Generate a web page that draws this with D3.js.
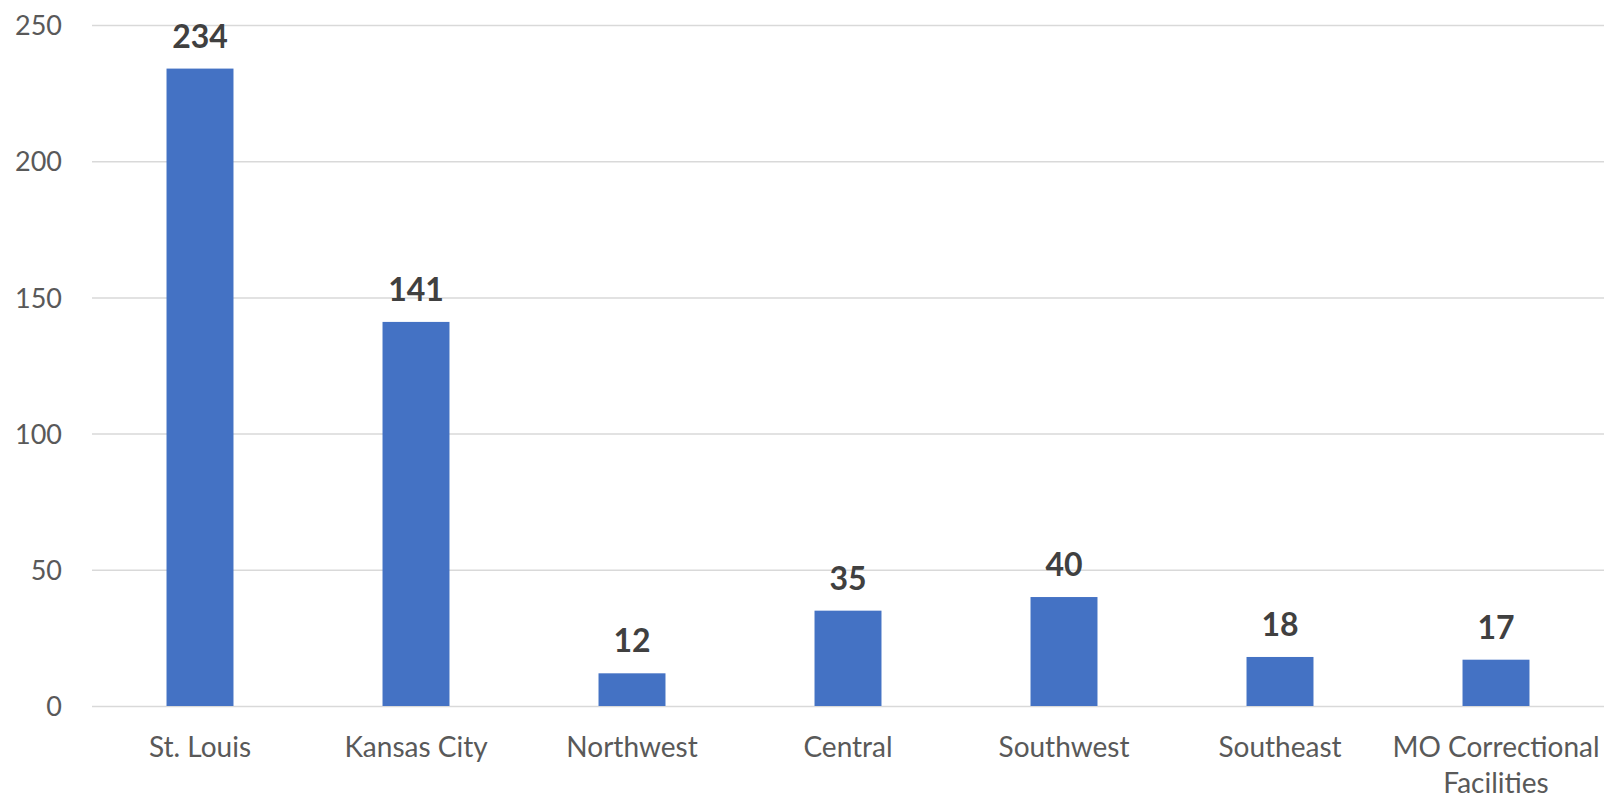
<!DOCTYPE html>
<html>
<head>
<meta charset="utf-8">
<script src="https://cdn.jsdelivr.net/npm/d3@7"></script>
<style>
  html, body { margin: 0; padding: 0; background: #fff; }
  svg { display: block; font-family: Lato, "Open Sans", sans-serif; }
</style>
</head>
<body>
<svg width="1606" height="799"></svg>
<script>
// Data
const regions = ["St. Louis", "Kansas City", "Northwest", "Central", "Southwest", "Southeast", "MO Correctional Facilities"];
const counts = [234, 141, 12, 35, 40, 18, 17];
const yTicks = [0, 50, 100, 150, 200, 250];

// The svg
let svg = d3.select("svg"),
    width = +svg.attr("width"),
    height = +svg.attr("height");

let margin = {top: 25, right: 2, bottom: 93, left: 92};

// Scales
let x = d3.scaleBand()
    .domain(regions)
    .range([margin.left, width - margin.right])
    .paddingInner(0.69)
    .paddingOuter(0.345);
let y = d3.scaleLinear()
    .domain([0, 250])
    .range([height - margin.bottom, margin.top]);

// Gridlines
svg.append("g")
    .selectAll("line")
    .data(yTicks)
    .join("line")
    .attr("x1", margin.left)
    .attr("x2", width - margin.right)
    .attr("y1", d => y(d) + 0.5)
    .attr("y2", d => y(d) + 0.5)
    .attr("stroke", "#d9d9d9")
    .attr("stroke-width", 1.5);

// Y axis labels
let yAxis = svg.append("g")
    .attr("transform", `translate(${margin.left - 30},0)`)
    .call(d3.axisLeft(y).tickValues(yTicks).tickSize(0).tickPadding(0));
yAxis.select(".domain").remove();
yAxis.selectAll("text")
    .attr("fill", "#595959")
    .attr("font-size", 27)
    .attr("font-family", "Lato, sans-serif")
    .attr("dy", "0.36em");

// Bars
svg.append("g")
    .selectAll("rect")
    .data(regions)
    .join("rect")
    .attr("x", d => x(d))
    .attr("width", x.bandwidth())
    .attr("y", (d, i) => y(counts[i]))
    .attr("height", (d, i) => y(0) - y(counts[i]))
    .attr("fill", "#4472c4");

// Data labels
svg.append("g")
    .selectAll("text")
    .data(regions)
    .join("text")
    .attr("x", d => x(d) + x.bandwidth() / 2)
    .attr("y", (d, i) => y(counts[i]) - 21)
    .attr("text-anchor", "middle")
    .attr("font-size", 32)
    .attr("font-weight", "bold")
    .attr("fill", "#404040")
    .text((d, i) => counts[i]);

// X axis labels, wrapped to the band
let xAxis = svg.append("g")
    .attr("transform", `translate(0,${y(0)})`)
    .call(d3.axisBottom(x).tickSize(0).tickPadding(0));
xAxis.select(".domain").remove();
xAxis.selectAll("text")
    .attr("fill", "#595959")
    .attr("font-size", 28)
    .attr("font-family", "Lato, sans-serif")
    .attr("dy", null)
    .attr("y", 51)
    .each(function (d) {
        let t = d3.select(this);
        let words = d.split(" ");
        let limit = x.step() - 2;
        t.text(null);
        let line = [];
        let tspan = t.append("tspan").attr("x", 0).attr("dy", 0);
        words.forEach(w => {
            line.push(w);
            tspan.text(line.join(" "));
            if (tspan.node().getComputedTextLength() > limit && line.length > 1) {
                line.pop();
                tspan.text(line.join(" "));
                line = [w];
                tspan = t.append("tspan").attr("x", 0).attr("dy", 36).text(w);
            }
        });
    });
</script>
</body>
</html>
